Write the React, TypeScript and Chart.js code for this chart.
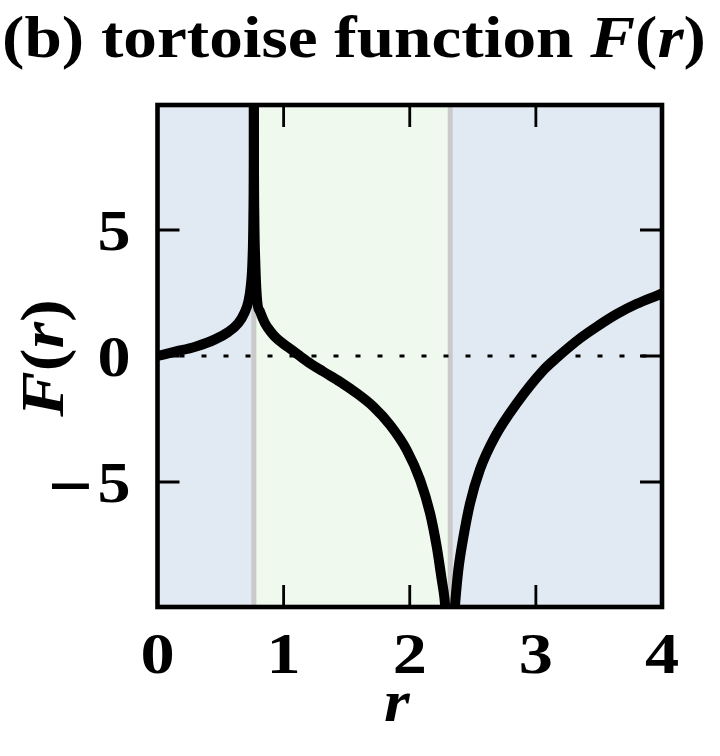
import React, { useEffect, useRef } from "react";
import { Chart, registerables } from "chart.js";

Chart.register(...registerables);

// ---- data ----
const rLeft = [0, 0.14, 0.3, 0.456, 0.56, 0.64, 0.69, 0.72, 0.74, 0.753, 0.76, 0.763, 0.7637];
const fLeft = [0, 0.17, 0.37, 0.66, 0.95, 1.3, 1.72, 2.15, 2.8, 3.8, 5.5, 8, 10.5];

const rMid = [0.7643, 0.765, 0.768, 0.775, 0.79, 0.813, 0.852, 0.9, 0.945, 1.0, 1.077, 1.183, 1.315, 1.447, 1.58, 1.711, 1.844, 1.976, 2.082, 2.161, 2.214, 2.254, 2.275, 2.29];
const fMid = [10.5, 8, 5.5, 3.8, 2.2, 1.76, 1.3, 0.95, 0.7, 0.48, 0.2, -0.2, -0.62, -1.02, -1.48, -2.01, -2.74, -3.73, -4.92, -6.24, -7.57, -8.89, -9.6, -10.5];

const rRight = [2.35, 2.362, 2.385, 2.425, 2.478, 2.557, 2.676, 2.848, 3.06, 3.17, 3.35, 3.5, 3.64, 3.8, 3.96, 4.0];
const fRight = [-10.5, -9.7, -8.5, -7.2, -5.85, -4.5, -3.2, -1.88, -0.56, -0.05, 0.7, 1.22, 1.66, 2.07, 2.4, 2.48];

const rZero = [0, 4];
const fZero = [0, 0];

const horizons = [0.764, 2.321];
const regionStarts = [0, 0.764, 2.321];
const regionEnds = [0.764, 2.321, 4];

const xTicks = [0, 1, 2, 3, 4];
const yTicks = [-5, 0, 5];
const xTickLabels = ["0", "1", "2", "3", "4"];
const yTickLabels = ["\u22125", "0", "5"];

const X_MIN = 0;
const X_MAX = 4;
const Y_MIN = -9.96;
const Y_MAX = 9.96;

// ---- styles ----
const REGION_COLORS = ["#e1e9f2", "#f0f9ed", "#e1e9f2"];
const HORIZON_COLOR = "#cacaca";
const SERIF = "'Liberation Serif', 'Times New Roman', serif";
const MINUS_FONT = "bold 50px 'DejaVu Serif', serif";

const toPts = (xs: number[], ys: number[]) => xs.map((v, i) => ({ x: v, y: ys[i] }));

const bgPlugin = {
  id: "bgRegions",
  beforeDatasetsDraw(chart: any) {
    const { ctx, chartArea: ca, scales } = chart;
    const x = scales.x;
    ctx.save();
    ctx.beginPath();
    ctx.rect(ca.left, ca.top, ca.right - ca.left, ca.bottom - ca.top);
    ctx.clip();
    regionStarts.forEach((s, i) => {
      const x0 = x.getPixelForValue(s);
      const x1 = x.getPixelForValue(regionEnds[i]);
      ctx.fillStyle = REGION_COLORS[i];
      ctx.fillRect(x0, ca.top, x1 - x0, ca.bottom - ca.top);
    });
    ctx.strokeStyle = HORIZON_COLOR;
    ctx.lineWidth = 5;
    horizons.forEach((h) => {
      const px = x.getPixelForValue(h);
      ctx.beginPath();
      ctx.moveTo(px, ca.top);
      ctx.lineTo(px, ca.bottom);
      ctx.stroke();
    });
    ctx.restore();
  },
};

const framePlugin = {
  id: "frame",
  afterDatasetsDraw(chart: any) {
    const { ctx, chartArea: ca, scales } = chart;
    const x = scales.x;
    const y = scales.y;
    const TL = 22;
    ctx.save();
    ctx.strokeStyle = "#000";
    ctx.lineWidth = 2.8;
    ctx.lineCap = "butt";
    xTicks.forEach((t) => {
      const px = x.getPixelForValue(t);
      ctx.beginPath();
      ctx.moveTo(px, ca.bottom);
      ctx.lineTo(px, ca.bottom - TL);
      ctx.moveTo(px, ca.top);
      ctx.lineTo(px, ca.top + TL);
      ctx.stroke();
    });
    yTicks.forEach((t) => {
      const py = y.getPixelForValue(t);
      ctx.beginPath();
      ctx.moveTo(ca.left, py);
      ctx.lineTo(ca.left + TL, py);
      ctx.moveTo(ca.right, py);
      ctx.lineTo(ca.right - TL, py);
      ctx.stroke();
    });
    ctx.lineWidth = 4.6;
    ctx.lineJoin = "miter";
    ctx.strokeRect(ca.left, ca.top, ca.right - ca.left, ca.bottom - ca.top);
    ctx.restore();
  },
};

type Seg = { t: string; f: string };

// draws segments; f is a full CSS font string
function drawSegs(
  ctx: CanvasRenderingContext2D,
  segs: Seg[],
  x: number,
  y: number,
  align: "left" | "center" | "right",
  sx = 1,
  gap = 0
) {
  let total = 0;
  const widths = segs.map((s) => {
    ctx.font = s.f;
    const w = ctx.measureText(s.t).width * sx;
    total += w;
    return w;
  });
  total += gap * (segs.length - 1);
  let cx = align === "center" ? x - total / 2 : align === "right" ? x - total : x;
  segs.forEach((s, i) => {
    ctx.font = s.f;
    ctx.save();
    ctx.translate(cx, y);
    ctx.scale(sx, 1);
    ctx.textAlign = "left";
    ctx.fillText(s.t, 0, 0);
    ctx.restore();
    cx += widths[i] + gap;
  });
  return total;
}

const textPlugin = {
  id: "texts",
  afterDraw(chart: any) {
    const { ctx, chartArea: ca, scales } = chart;
    const x = scales.x;
    const y = scales.y;
    ctx.save();
    ctx.fillStyle = "#000";
    ctx.textBaseline = "alphabetic";

    // title, stretched to the reference width
    const TS = 60;
    const titleSegs: Seg[] = [
      { t: "(b) tortoise function ", f: `bold ${TS}px ${SERIF}` },
      { t: "F", f: `italic bold ${TS}px ${SERIF}` },
      { t: "(", f: `bold ${TS}px ${SERIF}` },
      { t: "r", f: `italic bold ${TS}px ${SERIF}` },
      { t: ")", f: `bold ${TS}px ${SERIF}` },
    ];
    let natural = 0;
    titleSegs.forEach((s) => {
      ctx.font = s.f;
      natural += ctx.measureText(s.t).width;
    });
    drawSegs(ctx, titleSegs, 2, 57, "left", 704 / natural);

    // x tick labels
    const tickFont = `bold 56px ${SERIF}`;
    xTicks.forEach((t, i) => {
      drawSegs(ctx, [{ t: xTickLabels[i], f: tickFont }], x.getPixelForValue(t), ca.bottom + 66, "center", 1.22);
    });
    // y tick labels
    yTicks.forEach((t, i) => {
      const lab = yTickLabels[i];
      const segs: Seg[] = lab.startsWith("\u2212")
        ? [{ t: "\u2212", f: MINUS_FONT }, { t: lab.slice(1), f: tickFont }]
        : [{ t: lab, f: tickFont }];
      drawSegs(ctx, segs, ca.left - 27, y.getPixelForValue(t) + 20, "right", 1.18, 2);
    });
    // x axis label
    drawSegs(ctx, [{ t: "r", f: `italic bold 60px ${SERIF}` }], (ca.left + ca.right) / 2 - 13, ca.bottom + 114, "center", 1.1);
    // y axis label
    ctx.save();
    ctx.translate(63, (ca.top + ca.bottom) / 2 + 2);
    ctx.rotate(-Math.PI / 2);
    drawSegs(
      ctx,
      [
        { t: "F", f: `italic bold 62px ${SERIF}` },
        { t: "(", f: `bold 62px ${SERIF}` },
        { t: "r", f: `italic bold 62px ${SERIF}` },
        { t: ")", f: `bold 62px ${SERIF}` },
      ],
      0,
      0,
      "center",
      1.1
    );
    ctx.restore();
    ctx.restore();
  },
};

export default function App() {
  const ref = useRef<HTMLCanvasElement | null>(null);

  useEffect(() => {
    if (!ref.current) return;
    const curveStyle = {
      borderColor: "#000",
      borderWidth: 10,
      pointRadius: 0,
      fill: false,
      cubicInterpolationMode: "monotone" as const,
      clip: 0,
      order: 0,
      borderCapStyle: "butt" as const,
      borderJoinStyle: "round" as const,
    };
    const chart = new Chart(ref.current, {
      type: "line",
      data: {
        datasets: [
          { ...curveStyle, label: "left", data: toPts(rLeft, fLeft) },
          { ...curveStyle, label: "mid", data: toPts(rMid, fMid) },
          { ...curveStyle, label: "right", data: toPts(rRight, fRight) },
          {
            label: "zero",
            data: toPts(rZero, fZero),
            borderColor: "#000",
            borderWidth: 3,
            borderDash: [5, 17],
            pointRadius: 0,
            order: 1,
            clip: 0,
          },
        ],
      } as any,
      options: {
        responsive: false,
        animation: false,
        events: [],
        layout: { padding: { left: 157.5, right: 58, top: 105, bottom: 149 } },
        plugins: { legend: { display: false }, tooltip: { enabled: false }, title: { display: false } },
        scales: {
          x: { type: "linear", min: X_MIN, max: X_MAX, display: false },
          y: { type: "linear", min: Y_MIN, max: Y_MAX, display: false },
        },
      } as any,
      plugins: [bgPlugin, framePlugin, textPlugin],
    });
    return () => chart.destroy();
  }, []);

  return (
    <div style={{ position: "absolute", left: 0, top: 0, width: 720, height: 756, background: "#fff" }}>
      <canvas ref={ref} width={720} height={756} style={{ width: 720, height: 756, display: "block" }} />
    </div>
  );
}
